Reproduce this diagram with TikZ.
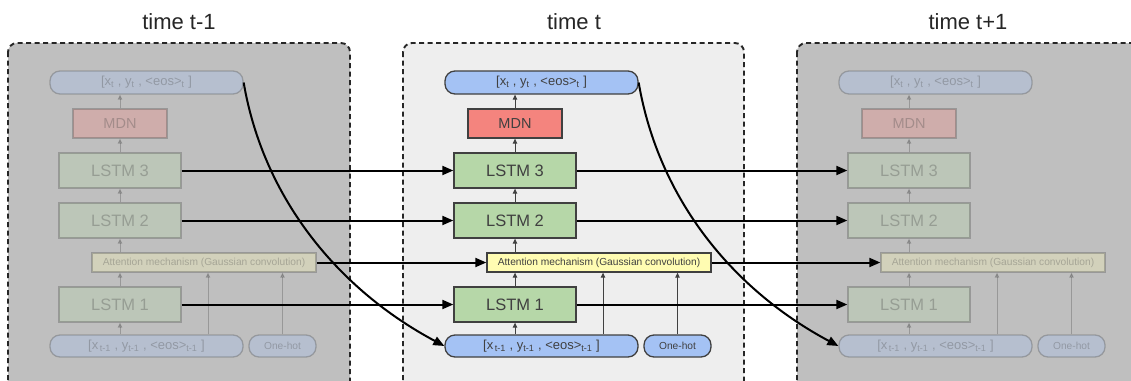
\documentclass[tikz,border=0pt]{standalone}
\usepackage{fontspec}
\setmainfont{Liberation Sans}
\usetikzlibrary{arrows.meta}
\definecolor{ioblue}{RGB}{164,194,244}
\definecolor{mdnred}{RGB}{244,132,126}
\definecolor{lstmgreen}{RGB}{182,215,168}
\definecolor{attyellow}{RGB}{255,252,178}
\definecolor{sidegray}{RGB}{191,191,191}
\definecolor{midgray}{RGB}{238,238,238}
\begin{document}
\begin{tikzpicture}[x=1pt,y=-1pt,
    box/.style={draw=black!75, line width=1.3pt, fill=#1, inner sep=0pt, text=black!75},
    pill/.style={box=#1, rounded corners=10pt},
    lstm/.style={box=lstmgreen, minimum width=122pt, minimum height=35pt, font=\fontsize{16.5}{18}\selectfont},
    panel/.style={draw=black!85, line width=1.9pt, dash pattern=on 5pt off 3.5pt, rounded corners=9pt},
    title/.style={text=black!85, font=\fontsize{22}{24}\selectfont},
    up/.style={draw=black!75, line width=0.9pt, -{Triangle[length=5pt,width=4.5pt]}},
    link/.style={draw=black, line width=2pt, -{Triangle[length=11pt,width=9pt]}}
  ]
    \clip (0,0) rectangle (1131,380);
    % the three time steps
    \draw[panel, fill=sidegray] (8,43) rectangle (350,420);
    \draw[panel, fill=midgray] (403,43) rectangle (744,420);
    \draw[panel, fill=sidegray] (797,43) rectangle (1160,420);
    \node[title] (pv-title) at (179,22) {time t-1};
    \node[title] (ct-title) at (574,22) {time t};
    \node[title] (nx-title) at (968,22) {time t+1};
    \foreach \p/\dx/\op in {pv/-395/0.3, ct/0/1, nx/394/0.3} {
        \begin{scope}[shift={(\dx,0)}, opacity=\op]
            \node[pill=ioblue, minimum width=193pt, minimum height=23pt, font=\fontsize{13}{15}\selectfont] (\p-out) at (541.5,82.5) {[x\textsubscript{t} , y\textsubscript{t} , <eos>\textsubscript{t} ]};
            \node[box=mdnred, minimum width=94pt, minimum height=29pt, font=\fontsize{14.5}{16}\selectfont] (\p-mdn) at (515,123.5) {MDN};
            \node[lstm] (\p-lstm3) at (515,170.5) {LSTM 3};
            \node[lstm] (\p-lstm2) at (515,220.5) {LSTM 2};
            \node[box=attyellow, minimum width=224pt, minimum height=19pt, font=\fontsize{10.2}{12}\selectfont] (\p-att) at (599,262.5) {Attention mechanism (Gaussian convolution)};
            \node[lstm] (\p-lstm1) at (515,304.5) {LSTM 1};
            \node[pill=ioblue, minimum width=193pt, minimum height=22pt, font=\fontsize{13}{15}\selectfont] (\p-in) at (541.5,346) {[x\textsubscript{\,t-1} , y\textsubscript{t-1} , <eos>\textsubscript{t-1} ]};
            \node[pill=ioblue, minimum width=67pt, minimum height=22pt, font=\fontsize{10.2}{12}\selectfont] (\p-hot) at (677.5,346) {One-hot};
            \draw[up] (\p-in.north -| \p-lstm1) -- (\p-lstm1.south);
            \draw[up] ([xshift=61.5pt]\p-in.north) -- ([xshift=61.5pt]\p-in.north |- \p-att.south);
            \draw[up] (\p-hot.north) -- (\p-hot.north |- \p-att.south);
            \draw[up] (\p-lstm1.north) -- (\p-lstm1.north |- \p-att.south);
            \draw[up] (\p-att.north -| \p-lstm2) -- (\p-lstm2.south);
            \draw[up] (\p-lstm2) -- (\p-lstm3);
            \draw[up] (\p-lstm3) -- (\p-mdn);
            \draw[up] (\p-mdn.north) -- (\p-mdn.north |- \p-out.south);
        \end{scope}
    }
    % state passed on to the next time step
    \foreach \a/\b in {pv/ct, ct/nx} {
        \draw[link] (\a-lstm3) -- (\b-lstm3);
        \draw[link] (\a-lstm2) -- (\b-lstm2);
        \draw[link] (\a-att) -- (\b-att);
        \draw[link] (\a-lstm1) -- (\b-lstm1);
        \draw[link] (\a-out.east) .. controls +(20,117) and +(-105,-56) .. (\b-in.west);
    }
\end{tikzpicture}
\end{document}
